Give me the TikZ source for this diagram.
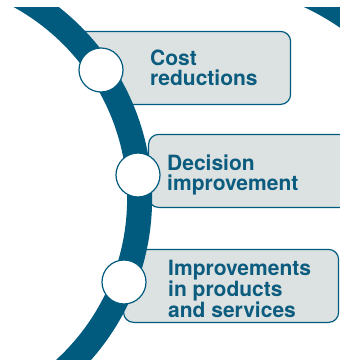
\documentclass[tikz,border=0pt]{standalone}
\usepackage{fontspec}
\setsansfont{TeX Gyre Heros}
\usepackage{xcolor}
\usetikzlibrary{calc,positioning}

\definecolor{ringblue}{HTML}{005B7F}
\definecolor{boxgray}{HTML}{DCE1E1}
\definecolor{textblue}{HTML}{0B5C7E}

\tikzset{
	infobox/.style={draw=ringblue,fill=boxgray,line width=1.2pt,rounded corners=10pt,anchor=south west,inner sep=0pt,minimum height=73pt},
	dot/.style={circle,draw=ringblue,fill=white,line width=1.2pt,minimum size=44pt,inner sep=0pt},
	boxtext/.style={anchor=north west,align=left,inner sep=0pt,text=textblue,font=\sffamily\bfseries\fontsize{21}{19.5}\selectfont}
}

\begin{document}
\begin{tikzpicture}[x=1pt,y=1pt]
		\useasboundingbox (0,0) rectangle (340,360);
		\begin{scope}
		\clip (0,0) rectangle (340,353);
		\node[infobox,minimum width=215pt] (box1) at (75,255) {};
		\node[infobox,minimum width=204pt] (box2) at (148,152) {};
		\node[infobox,minimum width=215pt] (box3) at (123,37) {};
		% the ring hides the left ends of the boxes
		\fill[white] (-91.4,161.3) circle[radius=219];
		\draw[ringblue,line width=25pt] (-91.4,161.3) circle[radius=231];
		\draw[ringblue,line width=24pt] ($(200,130)+(40:258)$) arc[start angle=40,end angle=75,radius=258];
		\end{scope}
		\node[dot] (dot1) at (101,290) {};
		\node[dot] (dot2) at (138,185) {};
		\node[dot] (dot3) at (124,78) {};
		\node[boxtext] (text1) at (150,310) {Cost\\reductions};
		\node[boxtext] (text2) at (167,205) {Decision\\improvement};
		\node[boxtext] (text3) at (168,100) {Improvements\\in products\\and services};
		\end{tikzpicture}
\end{document}
